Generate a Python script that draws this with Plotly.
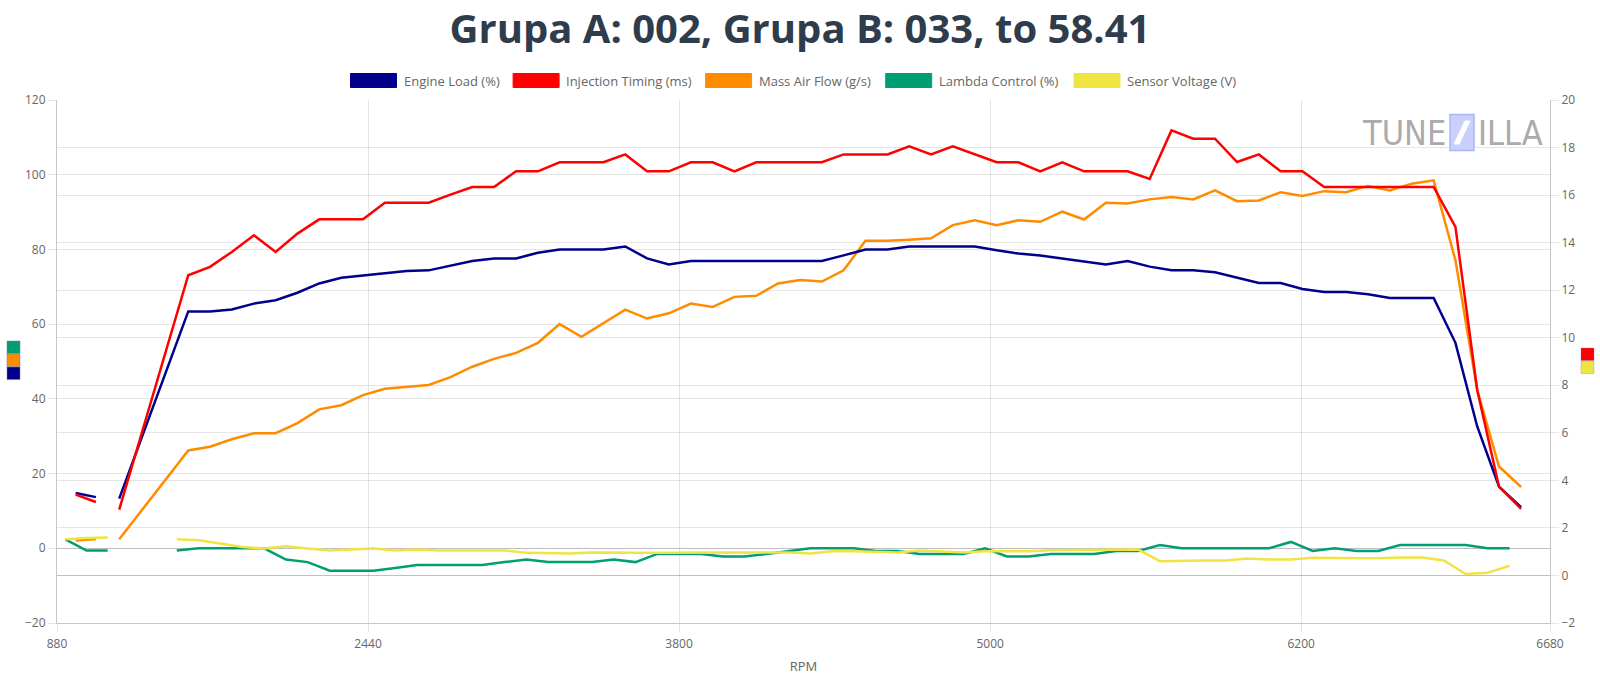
import plotly.graph_objects as go

# ---------------- data ----------------
# x axis: log time (s); tick labels show engine RPM at those instants
TICK_T = [0, 10, 20, 30, 40, 48]
TICK_RPM = ["880", "2440", "3800", "5000", "6200", "6680"]

# Group A samples (Engine Load, Injection Timing, Mass Air Flow)
TIME_A = [0.60, 1.25, 1.60, 2.00,
          4.22, 4.92, 5.62, 6.33, 7.03, 7.73, 8.43, 9.14, 9.84, 10.54,
          11.24, 11.95, 12.65, 13.35, 14.05, 14.76, 15.46, 16.16, 16.86, 17.57,
          18.27, 18.97, 19.67, 20.38, 21.08, 21.78, 22.48, 23.18, 23.89, 24.59,
          25.29, 25.99, 26.70, 27.40, 28.10, 28.80, 29.51, 30.21, 30.91, 31.61,
          32.32, 33.02, 33.72, 34.42, 35.13, 35.83, 36.53, 37.23, 37.94, 38.64,
          39.34, 40.04, 40.74, 41.45, 42.15, 42.85, 43.55, 44.26, 44.96, 45.66,
          46.36, 47.07]
ENGINE_LOAD = [14.8, 13.7, None, 13.3,
               63.4, 63.4, 63.9, 65.5, 66.4, 68.4, 70.9, 72.4, 73.0, 73.7,
               74.2, 74.4, 75.6, 76.9, 77.6, 77.6, 79.1, 80.0, 80.0, 80.0,
               80.8, 77.6, 76.0, 76.9, 76.9, 76.9, 76.9, 76.9, 76.9, 76.9,
               78.4, 80.0, 80.0, 80.8, 80.8, 80.8, 80.8, 79.8, 78.9, 78.4,
               77.6, 76.9, 76.0, 76.9, 75.4, 74.4, 74.4, 73.9, 72.4, 71.0,
               71.0, 69.4, 68.6, 68.6, 68.0, 67.0, 67.0, 67.0, 55.0, 32.6,
               16.5, 11.0]
INJECTION_TIMING = [3.40, 3.09, None, 2.77,
                    12.63, 12.98, 13.61, 14.31, 13.61, 14.38, 14.98, 14.98, 14.98, 15.68,
                    15.68, 15.68, 16.02, 16.34, 16.34, 17.00, 17.00, 17.38, 17.38, 17.38,
                    17.71, 17.00, 17.00, 17.38, 17.38, 17.00, 17.38, 17.38, 17.38, 17.38,
                    17.71, 17.71, 17.71, 18.05, 17.71, 18.05, 17.71, 17.38, 17.38, 17.00,
                    17.38, 17.00, 17.00, 17.00, 16.68, 18.72, 18.37, 18.37, 17.39, 17.71,
                    17.00, 17.00, 16.34, 16.34, 16.34, 16.34, 16.34, 16.34, 14.66, 7.80,
                    3.74, 2.80]
MASS_AIR_FLOW = [2.1, 2.5, None, 2.4,
                 26.2, 27.2, 29.2, 30.8, 30.8, 33.5, 37.2, 38.3, 41.0, 42.7,
                 43.1, 43.7, 45.8, 48.6, 50.7, 52.3, 55.0, 60.0, 56.6, 60.3,
                 63.9, 61.5, 62.9, 65.5, 64.6, 67.3, 67.6, 70.9, 71.8, 71.4,
                 74.4, 82.3, 82.3, 82.6, 83.0, 86.5, 87.8, 86.5, 87.8, 87.4,
                 90.1, 88.0, 92.5, 92.3, 93.4, 94.0, 93.4, 95.8, 92.9, 93.1,
                 95.3, 94.3, 95.6, 95.3, 97.0, 95.8, 97.6, 98.5, 77.1, 42.4,
                 21.9, 16.4]

# Group B samples (Lambda Control, Sensor Voltage)
TIME_B = [0.27, 0.95, 1.63, 2.70,
          3.85, 4.55, 5.25, 5.96, 6.66, 7.36, 8.06, 8.77, 9.47, 10.17,
          10.87, 11.58, 12.28, 12.98, 13.68, 14.39, 15.09, 15.79, 16.49, 17.20,
          17.90, 18.60, 19.30, 20.01, 20.71, 21.41, 22.11, 22.81, 23.52, 24.22,
          24.92, 25.62, 26.33, 27.03, 27.73, 28.43, 29.14, 29.84, 30.54, 31.24,
          31.95, 32.65, 33.35, 34.05, 34.76, 35.46, 36.16, 36.86, 37.57, 38.27,
          38.97, 39.67, 40.37, 41.08, 41.78, 42.48, 43.18, 43.89, 44.59, 45.29,
          45.99, 46.70]
LAMBDA_CONTROL = [2.4, -0.6, -0.6, None,
                  -0.6, 0.0, 0.0, 0.0, 0.0, -3.0, -3.7, -6.0, -6.0, -6.0,
                  -5.3, -4.5, -4.5, -4.5, -4.5, -3.7, -3.0, -3.7, -3.7, -3.7,
                  -3.0, -3.7, -1.5, -1.5, -1.5, -2.2, -2.2, -1.5, -0.7, 0.0,
                  0.0, 0.0, -0.7, -0.7, -1.5, -1.5, -1.5, 0.0, -2.2, -2.2,
                  -1.5, -1.5, -1.5, -0.7, -0.7, 0.9, 0.0, 0.0, 0.0, 0.0,
                  0.0, 1.7, -0.7, 0.0, -0.7, -0.7, 0.9, 0.9, 0.9, 0.9,
                  0.0, 0.0]
SENSOR_VOLTAGE = [1.52, 1.58, 1.60, None,
                  1.52, 1.48, 1.34, 1.20, 1.13, 1.23, 1.13, 1.05, 1.09, 1.13,
                  1.05, 1.09, 1.05, 1.05, 1.02, 1.05, 0.95, 0.92, 0.92, 0.97,
                  0.95, 0.95, 0.95, 0.95, 0.95, 0.95, 0.97, 0.97, 0.97, 0.92,
                  1.02, 1.02, 1.00, 0.97, 1.05, 1.00, 0.97, 1.02, 1.02, 1.02,
                  1.06, 1.06, 1.06, 1.09, 1.09, 0.60, 0.63, 0.63, 0.63, 0.71,
                  0.67, 0.67, 0.75, 0.72, 0.72, 0.72, 0.76, 0.76, 0.63, 0.06,
                  0.11, 0.41]

SERIES_NAMES = ["Engine Load (%)", "Injection Timing (ms)", "Mass Air Flow (g/s)",
                "Lambda Control (%)", "Sensor Voltage (V)"]
TITLE = "Grupa A: 002, Grupa B: 033, to 58.41"

# ---------------- styling ----------------
C_BLUE, C_RED, C_ORANGE, C_GREEN, C_YELLOW = "#00008b", "#ff0000", "#ff8c00", "#009e73", "#f0e442"
COLORS = [C_BLUE, C_RED, C_ORANGE, C_GREEN, C_YELLOW]
GRID = "rgba(0,0,0,0.1)"
AXLINE = "rgba(0,0,0,0.22)"
TXT = "#666666"
FONT = "Open Sans"

W, H = 1600, 675
L, R, T, B = 57, 1550, 100, 623   # plot area in pixels


def xp(px):
    return (px - L) / (R - L)


def yp(py):
    return (B - py) / (B - T)


fig = go.Figure()
# drawn so that the first dataset ends on top
fig.add_trace(go.Scatter(x=TIME_B, y=SENSOR_VOLTAGE, yaxis="y2", mode="lines",
                         line=dict(color=C_YELLOW, width=2.5), name=SERIES_NAMES[4]))
fig.add_trace(go.Scatter(x=TIME_B, y=LAMBDA_CONTROL, yaxis="y", mode="lines",
                         line=dict(color=C_GREEN, width=2.5), name=SERIES_NAMES[3]))
fig.add_trace(go.Scatter(x=TIME_A, y=MASS_AIR_FLOW, yaxis="y", mode="lines",
                         line=dict(color=C_ORANGE, width=2.5), name=SERIES_NAMES[2]))
fig.add_trace(go.Scatter(x=TIME_A, y=INJECTION_TIMING, yaxis="y2", mode="lines",
                         line=dict(color=C_RED, width=2.5), name=SERIES_NAMES[1]))
fig.add_trace(go.Scatter(x=TIME_A, y=ENGINE_LOAD, yaxis="y", mode="lines",
                         line=dict(color=C_BLUE, width=2.5), name=SERIES_NAMES[0]))
fig.update_traces(connectgaps=False, hoverinfo="skip", showlegend=False)

shapes = []
annotations = []

# ---- custom legend (boxes + labels) ----
LEG_BOX_X = [350.5, 513.1, 705.6, 885.7, 1074.0]
LEG_BOX_W, LEG_BOX_H, LEG_Y = 46, 14, 80.5
for name, col, bx in zip(SERIES_NAMES, COLORS, LEG_BOX_X):
    shapes.append(dict(type="rect", xref="paper", yref="paper",
                       x0=xp(bx), x1=xp(bx + LEG_BOX_W),
                       y0=yp(LEG_Y + LEG_BOX_H / 2), y1=yp(LEG_Y - LEG_BOX_H / 2),
                       fillcolor=col, line=dict(color=col, width=1), layer="above"))
    annotations.append(dict(text=name, xref="paper", yref="paper",
                            x=xp(bx + LEG_BOX_W + 5), y=yp(LEG_Y),
                            xanchor="left", yanchor="middle", showarrow=False,
                            font=dict(family=FONT, size=13, color=TXT)))

# ---- axis colour markers ----
for i, col in enumerate([C_GREEN, C_ORANGE, C_BLUE]):
    y0 = 341 + i * 13
    shapes.append(dict(type="rect", xref="paper", yref="paper",
                       x0=xp(7), x1=xp(20), y0=yp(y0 + 12.5), y1=yp(y0),
                       fillcolor=col, line=dict(color="rgba(120,120,160,0.5)", width=1)))
for i, col in enumerate([C_RED, C_YELLOW]):
    y0 = 348 + i * 13
    shapes.append(dict(type="rect", xref="paper", yref="paper",
                       x0=xp(1581), x1=xp(1594), y0=yp(y0 + 12.5), y1=yp(y0),
                       fillcolor=col, line=dict(color="rgba(120,120,160,0.3)", width=1)))

# ---- watermark ----
WM_GRAY = "#ababab"
WM_FONT = dict(family="DejaVu Sans Condensed, Liberation Sans Narrow, Roboto, sans-serif",
               size=34, color=WM_GRAY)
annotations.append(dict(text="TUNE", xref="paper", yref="paper", x=xp(1448), y=yp(133),
                        xanchor="right", yanchor="middle", showarrow=False, font=WM_FONT))
annotations.append(dict(text="ILLA", xref="paper", yref="paper", x=xp(1476), y=yp(133),
                        xanchor="left", yanchor="middle", showarrow=False, font=WM_FONT))
shapes.append(dict(type="rect", xref="paper", yref="paper",
                   x0=xp(1450), x1=xp(1474), y0=yp(150.5), y1=yp(114.5),
                   fillcolor="#c8d0fb", line=dict(color="#aab6f6", width=1.5)))
zpath = "M {:.5f} {:.5f} L {:.5f} {:.5f} L {:.5f} {:.5f} L {:.5f} {:.5f} Z".format(
    xp(1465), yp(121), xp(1470), yp(121), xp(1459), yp(144), xp(1454), yp(144))
shapes.append(dict(type="path", xref="paper", yref="paper", path=zpath,
                   fillcolor="white", line=dict(color="white", width=1)))

axis_common = dict(gridcolor=GRID, gridwidth=1, showline=True, linecolor=AXLINE, linewidth=1,
                   ticks="outside", ticklen=8, tickcolor=GRID, automargin=False,
                   tickfont=dict(family=FONT, size=12, color=TXT))

fig.update_layout(
    width=W, height=H, autosize=False,
    margin=dict(l=L, r=W - R, t=T, b=H - B, autoexpand=False),
    paper_bgcolor="white", plot_bgcolor="white",
    title=dict(text=TITLE, x=0.5, xref="container", xanchor="center",
               y=1 - 29 / H, yref="container", yanchor="middle", automargin=False,
               font=dict(family=FONT, size=40, color="#2e3c4c", weight=700)),
    xaxis=dict(range=[0, 48], tickvals=TICK_T, ticktext=TICK_RPM, showgrid=True,
               zeroline=False, ticklabelstandoff=2,
               title=dict(text="RPM", font=dict(family=FONT, size=13, color=TXT), standoff=13),
               **axis_common),
    yaxis=dict(range=[-20, 120], tick0=0, dtick=20, showgrid=True,
               zeroline=True, zerolinecolor="rgba(0,0,0,0.25)", zerolinewidth=1,
               **axis_common),
    yaxis2=dict(range=[-2, 20], tick0=0, dtick=2, overlaying="y", side="right", showgrid=True,
                zeroline=True, zerolinecolor="rgba(0,0,0,0.25)", zerolinewidth=1,
                **axis_common),
    shapes=shapes, annotations=annotations,
    showlegend=False,
)

fig.write_html("out.html", config={"displayModeBar": False})
